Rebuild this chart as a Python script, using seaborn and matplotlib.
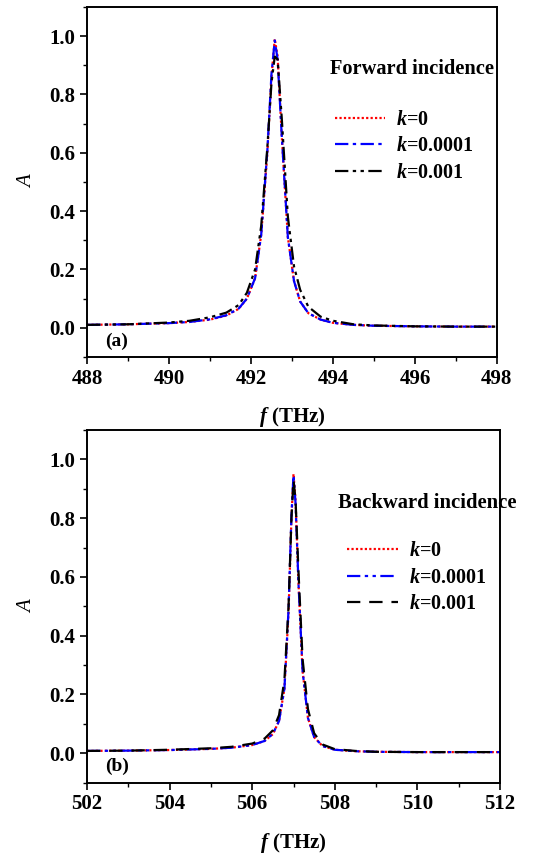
import numpy as np
import pandas as pd
import matplotlib
matplotlib.use('Agg')
import matplotlib.pyplot as plt
from matplotlib.ticker import MultipleLocator
import seaborn as sns

sns.set_style('ticks')
plt.rcParams['font.family'] = ['Liberation Serif', 'DejaVu Serif']
plt.rcParams['font.weight'] = 'bold'
plt.rcParams['text.color'] = 'black'
plt.rcParams['axes.labelcolor'] = 'black'
plt.rcParams['axes.edgecolor'] = 'black'
plt.rcParams['xtick.color'] = 'black'
plt.rcParams['ytick.color'] = 'black'
plt.rcParams['mathtext.fontset'] = 'custom'
plt.rcParams['mathtext.rm'] = 'Liberation Serif:bold'
plt.rcParams['mathtext.it'] = 'Liberation Serif:italic'
plt.rcParams['mathtext.bf'] = 'Liberation Serif:bold'
plt.rcParams['mathtext.bfit'] = 'Liberation Serif:italic:bold'

# forward incidence (panel a)
f_fwd = [488, 489, 490, 490.5, 491, 491.4, 491.7, 491.9, 492.1, 492.25, 492.4,
         492.5, 492.58, 492.65, 492.75, 492.9, 493.05, 493.2, 493.4, 493.7,
         494, 494.5, 495, 496, 497, 498]
a_fwd_k0 = [0.010, 0.012, 0.016, 0.020, 0.028, 0.042, 0.065, 0.10, 0.17, 0.32, 0.60,
            0.86, 0.99, 0.93, 0.66, 0.31, 0.16, 0.09, 0.05, 0.028,
            0.017, 0.010, 0.007, 0.005, 0.004, 0.004]
a_fwd_k1 = [0.010, 0.012, 0.016, 0.020, 0.029, 0.043, 0.066, 0.10, 0.17, 0.32, 0.61,
            0.87, 0.985, 0.92, 0.66, 0.31, 0.16, 0.09, 0.05, 0.028,
            0.017, 0.010, 0.007, 0.005, 0.004, 0.004]
a_fwd_k2 = [0.010, 0.012, 0.018, 0.024, 0.036, 0.052, 0.078, 0.12, 0.20, 0.35, 0.62,
            0.84, 0.93, 0.92, 0.72, 0.38, 0.21, 0.13, 0.072, 0.038,
            0.024, 0.012, 0.008, 0.005, 0.004, 0.004]

# backward incidence (panel b)
f_bwd = [502, 503, 504, 505, 505.5, 506, 506.3, 506.5, 506.65, 506.78, 506.88,
         506.95, 507.0, 507.05, 507.12, 507.22, 507.35, 507.5, 507.7, 508,
         508.5, 509, 510, 511, 512]
a_bwd_k0 = [0.008, 0.009, 0.011, 0.015, 0.019, 0.028, 0.042, 0.065, 0.11, 0.22, 0.48,
            0.80, 0.95, 0.86, 0.58, 0.28, 0.12, 0.055, 0.025, 0.012,
            0.007, 0.005, 0.004, 0.004, 0.004]
a_bwd_k1 = [0.008, 0.009, 0.011, 0.015, 0.019, 0.028, 0.042, 0.066, 0.11, 0.22, 0.49,
            0.81, 0.945, 0.85, 0.58, 0.28, 0.12, 0.055, 0.025, 0.012,
            0.007, 0.005, 0.004, 0.004, 0.004]
a_bwd_k2 = [0.008, 0.009, 0.012, 0.017, 0.022, 0.033, 0.050, 0.078, 0.13, 0.25, 0.50,
            0.80, 0.93, 0.86, 0.62, 0.32, 0.15, 0.068, 0.030, 0.014,
            0.008, 0.005, 0.004, 0.004, 0.004]

labels = [r'$\mathbfit{k}$=0', r'$\mathbfit{k}$=0.0001', r'$\mathbfit{k}$=0.001']
colors = ['red', 'blue', 'black']

fig = plt.figure(figsize=(5.48, 8.55), dpi=100)
ax1 = fig.add_axes([0.1588, 0.5825, 0.748, 0.4094])
ax2 = fig.add_axes([0.1588, 0.0846, 0.7536, 0.4125])

styles_a = [(0, (1, 1)), (0, (6, 2, 1.5, 2)), (0, (6, 2, 1.5, 2, 1.5, 2))]
styles_b = [(0, (1, 1)), (0, (6, 2, 1.5, 2, 1.5, 2)), (0, (6, 4))]

panels = [
    (ax1, f_fwd, [a_fwd_k0, a_fwd_k1, a_fwd_k2], styles_a, (488, 498), '(a)'),
    (ax2, f_bwd, [a_bwd_k0, a_bwd_k1, a_bwd_k2], styles_b, (502, 512), '(b)'),
]

for ax, f, series, styles, xlim, tag in panels:
    for a, c, ls, lab in zip(series, colors, styles, labels):
        df = pd.DataFrame({'f': f, 'A': a})
        sns.lineplot(data=df, x='f', y='A', ax=ax, color=c, linestyle=ls,
                     linewidth=1.6, label=lab)
    ax.set_xlim(*xlim)
    ax.set_ylim(-0.1, 1.1)
    ax.xaxis.set_major_locator(MultipleLocator(2))
    ax.xaxis.set_minor_locator(MultipleLocator(1))
    ax.yaxis.set_major_locator(MultipleLocator(0.2))
    ax.yaxis.set_minor_locator(MultipleLocator(0.1))
    ax.set_yticks([0, 0.2, 0.4, 0.6, 0.8, 1.0])
    ax.tick_params(which='major', direction='out', length=5, width=1.2, labelsize=15)
    ax.tick_params(which='minor', direction='out', length=3, width=1.0)
    for lbl in ax.get_xticklabels() + ax.get_yticklabels():
        lbl.set_fontweight('bold')
    for sp in ax.spines.values():
        sp.set_linewidth(1.4)
        sp.set_visible(True)
    ax.set_xlabel(r'$\mathbfit{f}$ (THz)', fontsize=15, fontweight='bold', labelpad=12)
    ax.set_ylabel('A', fontsize=15, fontstyle='italic', fontweight='normal', labelpad=9)
    ax.text(0.045, 0.045, tag, transform=ax.transAxes, fontsize=14,
            fontweight='bold', va='center')

leg_kw = dict(loc='upper left', frameon=False, fontsize=14.5, handlelength=2.5,
              handletextpad=0.55, labelspacing=0.33, borderpad=0, borderaxespad=0)

ax1.text(0.592, 0.823, 'Forward incidence', transform=ax1.transAxes,
         fontsize=14.7, fontweight='bold', va='center')
ax1.legend(bbox_to_anchor=(0.605, 0.706), **leg_kw)
ax2.text(0.607, 0.793, 'Backward incidence', transform=ax2.transAxes,
         fontsize=14.9, fontweight='bold', va='center')
ax2.legend(bbox_to_anchor=(0.63, 0.685), **leg_kw)

fig.savefig('out.png', dpi=100)
